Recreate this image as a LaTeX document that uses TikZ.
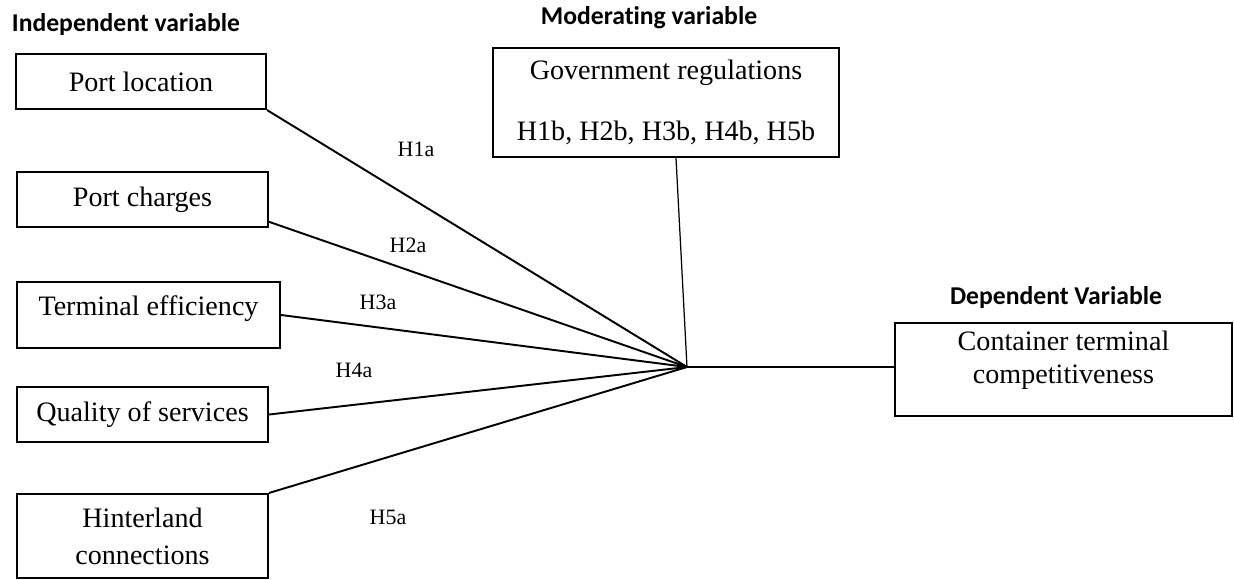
\documentclass[tikz,border=0pt]{standalone}
\usepackage{fontspec}
\setmainfont{Liberation Serif}
\newfontfamily\calibri[Ligatures=NoCommon]{Carlito}
\usetikzlibrary{calc,positioning}

\begin{document}
\begin{tikzpicture}[x=0.02cm,y=-0.02cm,
  varbox/.style={draw,line width=1.2pt,inner sep=0pt,align=center,font=\fontsize{16}{19}\selectfont},
  titel/.style={font=\calibri\bfseries\fontsize{14.6}{17}\selectfont,inner sep=0pt},
  hyp/.style={font=\fontsize{12.5}{14}\selectfont,inner sep=0pt},
  verbindung/.style={line width=1.1pt},
  duenn/.style={line width=0.7pt}]
\useasboundingbox (0,0) rectangle (1234,579);
%Koordinaten wie im Bild (Pixel), y nach unten
\node[titel] (indep) at (126,25) {Independent variable};
\node[titel] (moder) at (649,18) {Moderating variable};
\node[titel] (depti) at (1056,298) {Dependent Variable};
%linke Spalte
\node[varbox,minimum width=5cm,minimum height=1.1cm] (loc) at (141,81.5) {Port location};
\node[varbox,minimum width=5.02cm,minimum height=1.1cm] (charges) at (142.5,199.5) {Port charges};
\node[varbox,minimum width=5.26cm,minimum height=1.32cm,text depth=10.5pt] (eff) at (148.5,315) {Terminal efficiency};
\node[varbox,minimum width=5.02cm,minimum height=1.1cm] (qual) at (142.5,414.5) {Quality of services};
\node[varbox,minimum width=5.02cm,minimum height=1.68cm] (hint) at (142.5,536) {Hinterland\\[2pt]connections};
%Moderator und abhaengige Variable
\node[varbox,minimum width=6.92cm,minimum height=2.18cm] (gov) at (666,102.5) {Government regulations\\[16pt]H1b, H2b, H3b, H4b, H5b};
\node[varbox,minimum width=6.74cm,minimum height=1.86cm,text depth=14pt] (dep) at (1063.5,369.5) {Container terminal\\competitiveness};
\coordinate (hub) at (687,367);
\foreach \start in {loc.south east, charges.-10, eff.east, qual.east, hint.north east}{
\draw[verbindung] (\start) -- (hub);
}
\draw[duenn] ([xshift=0.2cm]gov.south) -- (hub);
\draw[duenn] (hub) -- (hub -| dep.west);
%Hypothesen
\node[hyp] (h1) at (416,149) {H1a};
\node[hyp] (h2) at (408,245) {H2a};
\node[hyp] (h3) at (378,302) {H3a};
\node[hyp] (h4) at (354,370) {H4a};
\node[hyp] (h5) at (388,517) {H5a};
\end{tikzpicture}
\end{document}
